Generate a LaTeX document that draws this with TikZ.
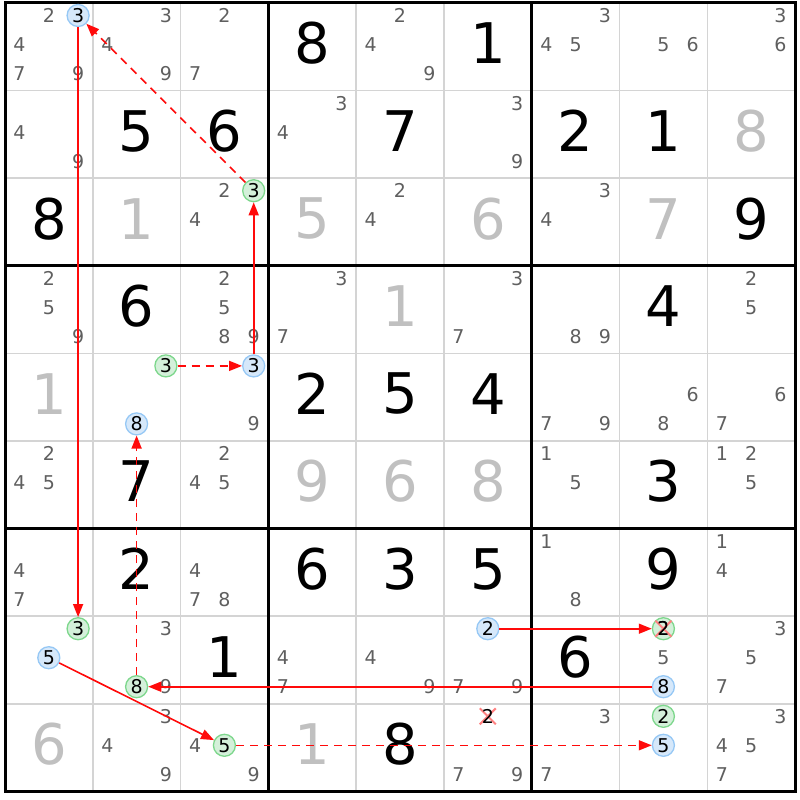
\documentclass[tikz,border=0pt]{standalone}
\usepackage{fontspec}
\setmainfont{DejaVu Sans}
\usetikzlibrary{arrows.meta}
\definecolor{candgray}{RGB}{95,95,95}
\definecolor{solgray}{RGB}{192,192,192}
\definecolor{thingrid}{RGB}{212,212,212}
\definecolor{bluefill}{RGB}{214,232,250}
\definecolor{bluedraw}{RGB}{150,200,245}
\definecolor{greenfill}{RGB}{212,240,218}
\definecolor{greendraw}{RGB}{125,215,140}
\definecolor{linkred}{RGB}{255,10,10}
\definecolor{xred}{RGB}{255,130,130}
\newcommand\SPos[3]{%
 \pgfmathsetmacro\myPX{5+(#2-1)*87.8+14.5+29.3*mod(#3-1,3)}%
 \pgfmathsetmacro\myPY{3+(#1-1)*87.6+12.5+29*floor((#3-1)/3)}}
\newcommand\SCands[3]{\foreach \dd in {#3}{\SPos{#1}{#2}{\dd}\node[cand] (k#1#2\dd) at (\myPX,\myPY) {\dd};}}
\newcommand\SBlue[3]{\SPos{#1}{#2}{#3}\node[bluec] (k#1#2#3) at (\myPX,\myPY) {#3};}
\newcommand\SGreen[3]{\SPos{#1}{#2}{#3}\node[greenc] (k#1#2#3) at (\myPX,\myPY) {#3};}
\newcommand\SCross[3]{\SPos{#1}{#2}{#3}\draw[xmark] (\myPX-8,\myPY-8) -- (\myPX+8,\myPY+8) (\myPX-8,\myPY+8) -- (\myPX+8,\myPY-8);}
\newcommand\SGiven[3]{\pgfmathsetmacro\myPX{5+(#2-1)*87.8+43.9}\pgfmathsetmacro\myPY{3+(#1-1)*87.6+40.5}\node[bigd] (g#1#2) at (\myPX,\myPY) {#3};}
\newcommand\SSolved[3]{\pgfmathsetmacro\myPX{5+(#2-1)*87.8+43.9}\pgfmathsetmacro\myPY{3+(#1-1)*87.6+40.5}\node[bigd,text=solgray] (g#1#2) at (\myPX,\myPY) {#3};}
\begin{document}
\begin{tikzpicture}[x=1pt,y=-1pt,
  cand/.style={inner sep=0pt,text=candgray,font=\fontsize{19}{19}\selectfont},
  bigd/.style={inner sep=0pt,text=black,font=\fontsize{56}{56}\selectfont},
  bluec/.style={circle,draw=bluedraw,fill=bluefill,line width=1.3pt,minimum size=22pt,inner sep=0pt,text=black,font=\fontsize{19}{19}\selectfont},
  greenc/.style={circle,draw=greendraw,fill=greenfill,line width=1.3pt,minimum size=22pt,inner sep=0pt,text=black,font=\fontsize{19}{19}\selectfont},
  xmark/.style={draw=xred,line width=2pt},
  thingr/.style={draw=thingrid,line width=1.5pt},
  thickgr/.style={draw=black,line width=3pt,line cap=rect},
  link/.style={draw=linkred,line width=1.6pt,-{Triangle[length=13pt,width=10pt]}},
  weak/.style={link,dash pattern=on 8pt off 6pt}]
\useasboundingbox (0,0) rectangle (800,800);
\fill[white] (0,0) rectangle (800,800);
\foreach \i in {1,2,4,5,7,8}{
  \draw[thingr] (5+\i*87.8,3) -- (5+\i*87.8,791.4);
  \draw[thingr] (5,3+\i*87.6) -- (795.2,3+\i*87.6);}
\foreach \i in {0,3,6,9}{
  \draw[thickgr] (5+\i*87.8,3) -- (5+\i*87.8,791.4);
  \draw[thickgr] (5,3+\i*87.6) -- (795.2,3+\i*87.6);}
% given digits
\SGiven{1}{4}{8}\SGiven{1}{6}{1}
\SGiven{2}{2}{5}\SGiven{2}{3}{6}\SGiven{2}{5}{7}\SGiven{2}{7}{2}\SGiven{2}{8}{1}
\SGiven{3}{1}{8}\SGiven{3}{9}{9}
\SGiven{4}{2}{6}\SGiven{4}{8}{4}
\SGiven{5}{4}{2}\SGiven{5}{5}{5}\SGiven{5}{6}{4}
\SGiven{6}{2}{7}\SGiven{6}{8}{3}
\SGiven{7}{2}{2}\SGiven{7}{4}{6}\SGiven{7}{5}{3}\SGiven{7}{6}{5}\SGiven{7}{8}{9}
\SGiven{8}{3}{1}\SGiven{8}{7}{6}
\SGiven{9}{5}{8}
% solved digits
\SSolved{2}{9}{8}\SSolved{3}{2}{1}\SSolved{3}{4}{5}\SSolved{3}{6}{6}\SSolved{3}{8}{7}
\SSolved{4}{5}{1}\SSolved{5}{1}{1}\SSolved{6}{4}{9}\SSolved{6}{5}{6}\SSolved{6}{6}{8}
\SSolved{9}{1}{6}\SSolved{9}{4}{1}
% candidates
\SCands{1}{1}{2,4,7,9}\SCands{1}{2}{3,4,9}\SCands{1}{3}{2,7}\SCands{1}{5}{2,4,9}
\SCands{1}{7}{3,4,5}\SCands{1}{8}{5,6}\SCands{1}{9}{3,6}
\SCands{2}{1}{4,9}\SCands{2}{4}{3,4}\SCands{2}{6}{3,9}
\SCands{3}{3}{2,4}\SCands{3}{5}{2,4}\SCands{3}{7}{3,4}
\SCands{4}{1}{2,5,9}\SCands{4}{3}{2,5,8,9}\SCands{4}{4}{3,7}\SCands{4}{6}{3,7}
\SCands{4}{7}{8,9}\SCands{4}{9}{2,5}
\SCands{5}{3}{9}\SCands{5}{7}{7,9}\SCands{5}{8}{6,8}\SCands{5}{9}{6,7}
\SCands{6}{1}{2,4,5}\SCands{6}{3}{2,4,5}\SCands{6}{7}{1,5}\SCands{6}{9}{1,2,5}
\SCands{7}{1}{4,7}\SCands{7}{3}{4,7,8}\SCands{7}{7}{1,8}\SCands{7}{9}{1,4}
\SCands{8}{2}{3,9}\SCands{8}{4}{4,7}\SCands{8}{5}{4,9}\SCands{8}{6}{7,9}
\SCands{8}{8}{5}\SCands{8}{9}{3,5,7}
\SCands{9}{2}{3,4,9}\SCands{9}{3}{4,9}\SCands{9}{6}{7,9}\SCands{9}{7}{3,7}
\SCands{9}{9}{3,4,5,7}
% highlighted candidates
\SBlue{1}{1}{3}\SGreen{3}{3}{3}\SBlue{5}{3}{3}\SGreen{5}{2}{3}\SBlue{5}{2}{8}
\SGreen{8}{1}{3}\SBlue{8}{1}{5}\SGreen{8}{2}{8}\SBlue{8}{6}{2}
\SGreen{8}{8}{2}\SCross{8}{8}{2}\SPos{8}{8}{2}\node[inner sep=0pt,font=\fontsize{19}{19}\selectfont] (t882) at (\myPX,\myPY) {2};
\SBlue{8}{8}{8}
\SGreen{9}{3}{5}\SGreen{9}{8}{2}\SBlue{9}{8}{5}
\SCross{9}{6}{2}\SPos{9}{6}{2}\node[inner sep=0pt,font=\fontsize{19}{19}\selectfont] (k962) at (\myPX,\myPY) {2};
% links
\draw[link] (k113) -- (k813);
\draw[weak] (k333) -- (k113);
\draw[link] (k533) -- (k333);
\draw[weak] (k523) -- (k533);
\draw[weak] (k828) -- (k528);
\draw[link] (k888) -- (k828);
\draw[link] (k862) -- (k882);
\draw[link] (k815) -- (k935);
\draw[weak] (k935) -- (k985);
\end{tikzpicture}
\end{document}
